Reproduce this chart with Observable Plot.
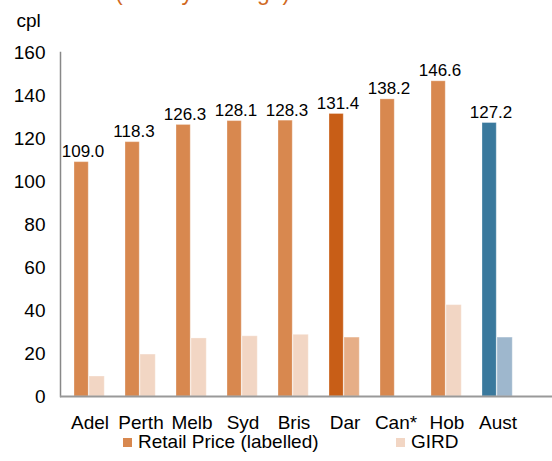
<!DOCTYPE html>
<html>
<head>
<meta charset="utf-8">
<script src="https://cdn.jsdelivr.net/npm/d3@7"></script>
<script src="https://cdn.jsdelivr.net/npm/@observablehq/plot@0.6"></script>
<style>
  html, body { margin: 0; padding: 0; background: #fff; overflow: hidden; }
  #wrap { position: relative; width: 552px; height: 461px; font-family: "Liberation Sans", Arial, sans-serif; }
  #title { position: absolute; left: 115px; top: -19.5px; font-size: 23px; line-height: 23px; color: #D0691E; white-space: nowrap; }
  #legend { position: relative; width: 552px; height: 29px; font-size: 19px; color: #000; }
  .item { position: absolute; top: 0; height: 20px; display: flex; align-items: center; white-space: nowrap; }
  .sw { width: 9px; height: 9px; margin-right: 6px; }
</style>
</head>
<body>
<div id="wrap">
  <div id="chart"></div>
  <div id="legend"></div>
  <div id="title">(weekly average)</div>
</div>
<script>
const cities = ["Adel", "Perth", "Melb", "Syd", "Bris", "Dar", "Can*", "Hob", "Aust"];
const retail = [109.0, 118.3, 126.3, 128.1, 128.3, 131.4, 138.2, 146.6, 127.2];
const gird = [9.3, 19.5, 27.0, 28.0, 28.7, 27.4, null, 42.5, 27.4];
const yTicks = [0, 20, 40, 60, 80, 100, 120, 140, 160];
const seriesNames = ["Retail Price (labelled)", "GIRD"];

const highlightCity = "Dar";
const nationalCity = "Aust";

const rows = cities.map((c, i) => ({city: c, retail: retail[i], gird: gird[i]}));

const retailFill = d => d.city === highlightCity ? "#C85E17" : d.city === nationalCity ? "#3A799D" : "#D8884F";
const girdFill = d => d.city === highlightCity ? "#E6AE87" : d.city === nationalCity ? "#9EB7CD" : "#F2D6C4";

const chart = Plot.plot({
  width: 552,
  height: 432,
  marginLeft: 60,
  marginRight: 0,
  marginTop: 52,
  marginBottom: 36,
  x: {domain: cities, range: [60, 526], padding: 0, label: null},
  y: {domain: [0, 160], ticks: yTicks, label: null},
  style: {fontFamily: "'Liberation Sans', Arial, sans-serif", fontSize: "19px", color: "#000", background: "#fff", overflow: "visible"},
  marks: [
    Plot.barY(rows, {x: "city", y: "retail", fill: retailFill, insetLeft: 10, insetRight: 26.75, stroke: "#fff", strokeOpacity: 0.3, strokeWidth: 1}),
    Plot.barY(rows.filter(d => d.gird != null), {x: "city", y: "gird", fill: girdFill, insetLeft: 25, insetRight: 10.75, stroke: "#fff", strokeOpacity: 0.3, strokeWidth: 1}),
    Plot.text(rows, {x: "city", y: "retail", text: d => d.retail.toFixed(1), dx: -7, dy: -5, lineAnchor: "bottom", fontSize: 17, fill: "#000"}),
    Plot.axisY({ticks: yTicks, tickSize: 0, tickPadding: 15, fontSize: 19, label: null}),
    Plot.axisX({tickSize: 0, tickPadding: 19, fontSize: 19, label: null}),
    Plot.frame({anchor: "left", stroke: "#888", strokeWidth: 1.5}),
    Plot.ruleY([0], {stroke: "#999", strokeWidth: 2}),
    Plot.text(["cpl"], {frameAnchor: "top-left", text: d => d, dx: -44, dy: -32, textAnchor: "start", lineAnchor: "middle", fontSize: 19, fill: "#000"})
  ]
});
document.getElementById("chart").appendChild(chart);

const legend = document.getElementById("legend");
const legendColors = ["#D8884F", "#F2D6C4"];
const legendLeft = [123, 396];
seriesNames.forEach((name, i) => {
  const it = document.createElement("div");
  it.className = "item";
  it.style.left = legendLeft[i] + "px";
  const sw = document.createElement("div");
  sw.className = "sw";
  sw.style.background = legendColors[i];
  const tx = document.createElement("span");
  tx.textContent = name;
  it.appendChild(sw);
  it.appendChild(tx);
  legend.appendChild(it);
});
</script>
</body>
</html>
